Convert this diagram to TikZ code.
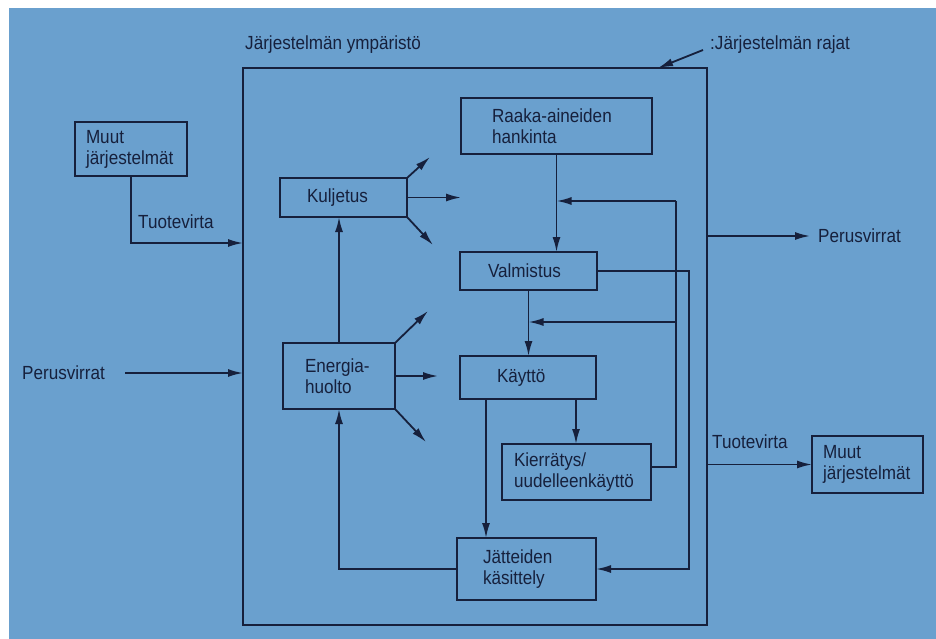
\documentclass[tikz,border=0pt]{standalone}
\usepackage{fontspec}
\setmainfont{Liberation Sans}[FakeStretch=0.9]
\usetikzlibrary{arrows.meta,calc}
\definecolor{bgblue}{RGB}{106,160,206}
\definecolor{inkc}{RGB}{22,32,60}
\begin{document}
\begin{tikzpicture}[x=1pt,y=-1pt,
  box/.style={draw=inkc, line width=2.6pt, outer sep=0pt, rectangle, align=left, text=inkc,
    font=\fontsize{19}{21}\selectfont, inner ysep=2pt, anchor=north west},
  lbl/.style={text=inkc, font=\fontsize{19}{21}\selectfont, inner sep=0pt, anchor=west},
  conn/.style={draw=inkc, line width=1.8pt},
  arr/.style={conn, -{Latex[length=15pt,width=8pt]}}]
\useasboundingbox (0,0) rectangle (936,639);
\fill[white] (0,0) rectangle (936,639);
\fill[bgblue] (9,8) rectangle (936,639);

% system boundary
\node[draw=inkc, line width=2.4pt, inner sep=0pt, outer sep=0pt, minimum width=464pt, minimum height=557pt, anchor=north west] (sys) at (243,68) {};

% labels
\node[lbl] (env) at (245,45) {Järjestelmän ympäristö};
\node[lbl] (rj) at (710,45) {:Järjestelmän rajat};
\node[lbl] (tl) at (138,222) {Tuotevirta};
\node[lbl] (pl) at (22,373) {Perusvirrat};
\node[lbl] (pr) at (818,236) {Perusvirrat};
\node[lbl] (tr) at (712,442) {Tuotevirta};

% boxes
\node[box, inner xsep=11pt, text width=90pt, minimum height=54pt] (m1) at (75,122) {Muut\\järjestelmät};
\node[box, inner xsep=11pt, text width=89pt, minimum height=57pt] (m2) at (812,436) {Muut\\järjestelmät};
\node[box, inner xsep=27pt, text width=73pt, minimum height=39pt] (kulj) at (280,178) {Kuljetus};
\node[box, inner xsep=22pt, text width=68pt, minimum height=66pt] (ener) at (283,343) {Energia-\\huolto};
\node[box, inner xsep=31pt, text width=129pt, minimum height=56pt] (raaka) at (461,98) {Raaka-aineiden\\hankinta};
\node[box, inner xsep=28pt, text width=81pt, minimum height=38pt] (valm) at (460,252) {Valmistus};
\node[box, inner xsep=37pt, text width=62pt, minimum height=43pt] (kay) at (460,356) {Käyttö};
\node[box, inner xsep=12pt, text width=125pt, minimum height=56pt] (kier) at (502,444) {Kierrätys/\\uudelleenkäyttö};
\node[box, inner xsep=26pt, text width=87pt, minimum height=62pt] (jat) at (457,538) {Jätteiden\\käsittely};

% coordinates
\coordinate (t1) at (131,243);
\coordinate (rjt) at (658,68);
\coordinate (ku1) at (430,157);
\coordinate (ku2) at (461,197.5);
\coordinate (ku3) at (433,245);
\coordinate (en1) at (428,311);
\coordinate (en2) at (438,376);
\coordinate (en3) at (426,442);
\coordinate (lp1) at (676,201);
\coordinate (lp2) at (676,322);
\coordinate (lp3) at (689,569);
\coordinate (k1) at ([xshift=26pt]kay.south west);
\coordinate (k2) at ([xshift=-20pt]kay.south east);

% external flows
\draw[arr] (m1.south) -- (t1) -- (sys.west |- t1);
\draw[arr] ([xshift=20pt]pl.east) -- (sys.west |- pl.east);
\draw[arr] (sys.east |- pr.west) -- ([xshift=-8pt]pr.west);
\draw[arr] (sys.east |- m2.west) -- (m2.west);
\draw[arr] ([xshift=-7pt,yshift=-5pt]rj.west) -- (rjt);

% fans
\draw[arr] (kulj.north east) -- (ku1);
\draw[arr] (kulj.east) -- (kulj.east -| ku2);
\draw[arr] (kulj.south east) -- (ku3);
\draw[arr] (ener.north east) -- (en1);
\draw[arr] (ener.east) -- (ener.east -| en2);
\draw[arr] (ener.south east) -- (en3);

% internal flows
\draw[arr] (raaka.south) -- (raaka.south |- valm.north);
\draw[arr] (valm.south) -- (valm.south |- kay.north);
\draw[arr] (k1) -- (k1 |- jat.north);
\draw[arr] (k2) -- (k2 |- kier.north);
\draw[conn] ([yshift=5pt]kier.east) -| (lp1);
\draw[arr] (lp1) -- (raaka.south |- lp1);
\draw[arr] (lp2) -- (valm.south |- lp2);
\draw[arr] (valm.east) -| (lp3) -- (jat.east);
\draw[arr] (jat.west) -| (ener.south);
\draw[arr] (ener.north) -- (ener.north |- kulj.south);
\end{tikzpicture}
\end{document}
